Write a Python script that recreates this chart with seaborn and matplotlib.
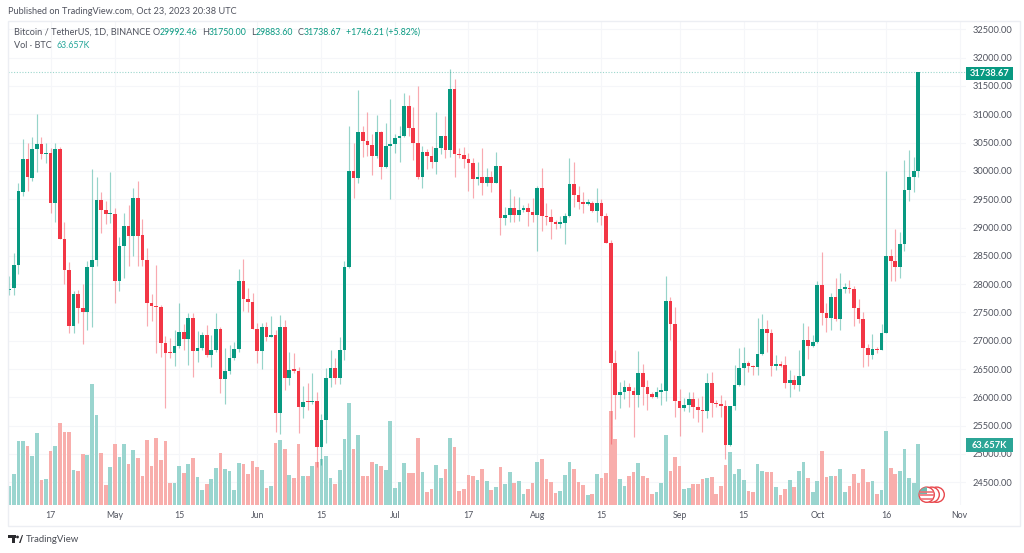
"""
BTCUSDT daily candles with volume, TradingView style snapshot.
"""

import matplotlib
matplotlib.use("Agg")
import matplotlib.pyplot as plt
import matplotlib.patches as mpatches
import pandas as pd
import seaborn as sns

START_DATE = "2023-04-08"

opens = [27900, 27940, 28333, 29635, 30217, 29880, 30380, 30470, 30300, 30310,
         29428, 30380, 28804, 28250, 27260, 27820, 27580, 27505, 28305, 28420,
         29480, 29310, 29235, 29235, 28060, 28675, 29030, 28850, 29520, 28860,
         28430, 27660, 27620, 27590, 26965, 26790, 26775, 26910, 27160, 27030,
         27405, 26815, 26875, 27095, 26740, 26835, 27210, 26330, 26470, 26695,
         26855, 28060, 27735, 27690, 27200, 26810, 27245, 27070, 27110, 25715,
         27235, 26335, 26490, 26470, 25835, 25925, 25915, 25930, 25125, 25600,
         26335, 26525, 26335, 26845, 28310, 30000, 29880, 30690, 30520, 30460,
         30255, 30690, 30065, 30440, 30470, 30575, 30610, 31150, 30755, 30490,
         29890, 30340, 30270, 30150, 30405, 30610, 30370, 31440, 30300, 30275,
         30215, 30135, 29855, 29900, 29795, 29890, 29795, 30085, 29170, 29225,
         29345, 29215, 29310, 29350, 29275, 29220, 29705, 29195, 29185, 29105,
         29070, 29075, 29205, 29765, 29575, 29445, 29420, 29425, 29290, 29425,
         29195, 28725, 26610, 26045, 26100, 26190, 26120, 26045, 26430, 26175,
         26055, 26010, 26100, 26120, 27705, 27295, 25940, 25805, 25865, 25965,
         25825, 25775, 25755, 26260, 25905, 25880, 25840, 25155, 25840, 26215,
         26525, 26600, 26550, 26530, 26765, 27200, 27130, 26560, 26580, 26570,
         26250, 26300, 26220, 26380, 27015, 26905, 26970, 27990, 27495, 27410,
         27765, 27390, 27920, 27940, 27910, 27580, 27380, 26870, 26750, 26855,
         26840, 27145, 28490, 28400, 28310, 28710, 29665, 29900, 29992.46]
highs = [28150, 28545, 29793, 30560, 30490, 30600, 31000, 30605, 30490, 30400,
         30490, 30420, 29100, 28390, 27880, 27900, 28000, 28410, 30040, 29890,
         29620, 29470, 29980, 29350, 28840, 29265, 29390, 29690, 29820, 29150,
         28645, 27820, 28340, 27630, 27080, 27040, 27190, 27670, 27295, 27495,
         27495, 27175, 27155, 27275, 27100, 27495, 27245, 26880, 26925, 26980,
         28275, 28450, 27925, 27835, 27305, 27305, 27335, 27445, 27190, 27450,
         27375, 26805, 26775, 26530, 26205, 26250, 26430, 26100, 25700, 26510,
         26835, 26700, 27070, 28400, 30795, 30500, 31430, 30795, 31035, 30650,
         30990, 30700, 30840, 31265, 30650, 30795, 31370, 31340, 31130, 31500,
         30440, 30380, 30440, 31035, 30620, 30970, 31795, 31625, 30400, 30430,
         30325, 30225, 30165, 30410, 30045, 29990, 30340, 30090, 29370, 29675,
         29560, 29545, 29400, 29430, 29515, 29725, 30045, 29430, 29325, 29130,
         29205, 29265, 30235, 30150, 29735, 29620, 29500, 29460, 29695, 29500,
         29250, 28780, 26835, 26275, 26305, 26260, 26190, 26820, 26590, 26305,
         26090, 26180, 26245, 28140, 27765, 27590, 26150, 25985, 26090, 26100,
         25985, 26025, 26435, 26450, 25950, 26040, 25950, 25850, 26570, 26865,
         26895, 26650, 26570, 27395, 27480, 27375, 27200, 26750, 26640, 26730,
         26480, 26400, 26835, 27305, 27260, 27100, 28060, 28560, 27675, 27835,
         28115, 28205, 28020, 28080, 27970, 27730, 27510, 26945, 27120, 26890,
         27295, 30000, 28620, 28970, 28915, 30195, 30370, 30240, 31750]
lows = [27800, 27800, 28175, 29560, 29646, 29820, 29980, 30205, 30135, 29250,
        29100, 28790, 28010, 27130, 27140, 27320, 26950, 27190, 27235, 28320,
        28910, 29060, 29085, 27670, 27880, 28115, 28320, 28500, 28320, 28320,
        27260, 27350, 26775, 26705, 25815, 26700, 26560, 26880, 26835, 26570,
        26365, 26630, 26835, 26705, 26540, 26800, 26080, 25880, 26420, 26660,
        26805, 27530, 27510, 27200, 26600, 26500, 27000, 27060, 25380, 25350,
        26130, 26215, 26430, 25365, 25630, 25775, 25880, 24775, 24800, 25190,
        26185, 26240, 26240, 26660, 28280, 29530, 29795, 30250, 30270, 29930,
        30225, 29860, 30050, 29500, 30325, 30160, 30600, 30620, 30195, 29855,
        29700, 30030, 30045, 29945, 30290, 30235, 30250, 29900, 30230, 30060,
        29640, 29520, 29755, 29575, 29735, 29620, 29780, 28860, 29045, 29095,
        29090, 29120, 29270, 29035, 29105, 28585, 28930, 29050, 28800, 28975,
        28990, 28705, 29190, 29370, 29325, 29265, 29390, 29280, 29105, 29045,
        28720, 25170, 25615, 25810, 25970, 25830, 25300, 25830, 25870, 25775,
        25980, 25990, 25870, 25930, 27020, 25660, 25315, 25765, 25745, 25630,
        25560, 25380, 25630, 25660, 25830, 25660, 24910, 25140, 25775, 26200,
        26215, 26450, 26395, 26390, 26750, 26805, 26375, 26480, 26530, 26160,
        26000, 26140, 26120, 26370, 26670, 26895, 26960, 27275, 27155, 27195,
        27350, 27190, 27835, 27850, 27260, 27305, 26540, 26550, 26685, 26780,
        26830, 27130, 28060, 28060, 28105, 28580, 29460, 29635, 29883.6]
closes = [27920, 28333, 29640, 30217, 29893, 30380, 30470, 30300, 30310, 29428,
          30380, 28804, 28250, 27260, 27820, 27580, 27505, 28310, 28420, 29480,
          29310, 29235, 29240, 28060, 28675, 29030, 28850, 29520, 28850, 28430,
          27660, 27620, 27590, 26965, 26790, 26775, 26910, 27160, 27030, 27405,
          26815, 26875, 27095, 26740, 26835, 27210, 26330, 26470, 26695, 26855,
          28060, 27735, 27690, 27200, 26810, 27245, 27070, 27110, 25715, 27235,
          26335, 26490, 26470, 25835, 25925, 25915, 25925, 25125, 25600, 26335,
          26525, 26335, 26845, 28310, 30000, 29880, 30690, 30520, 30460, 30255,
          30690, 30065, 30440, 30470, 30575, 30610, 31150, 30755, 30490, 29890,
          30340, 30270, 30150, 30405, 30610, 30370, 31440, 30300, 30275, 30215,
          30135, 29855, 29900, 29795, 29890, 29795, 30085, 29170, 29225, 29345,
          29215, 29310, 29350, 29275, 29220, 29705, 29195, 29185, 29105, 29070,
          29080, 29205, 29765, 29575, 29445, 29420, 29425, 29290, 29425, 29195,
          28725, 26610, 26045, 26100, 26190, 26120, 26045, 26430, 26175, 26055,
          26010, 26100, 26130, 27705, 27295, 25940, 25805, 25865, 25965, 25825,
          25775, 25755, 26260, 25905, 25880, 25840, 25155, 25840, 26215, 26525,
          26600, 26550, 26530, 26765, 27200, 27130, 26560, 26580, 26560, 26250,
          26300, 26220, 26380, 27015, 26905, 26970, 27990, 27495, 27410, 27765,
          27390, 27920, 27940, 27910, 27580, 27380, 26870, 26750, 26855, 26840,
          27145, 28490, 28400, 28310, 28710, 29665, 29900, 29990, 31738.67]
volumes = [19.4, 32.7, 67.3, 67.3, 61.6, 51.4, 75, 25.7, 26.8, 56,
           61.6, 85.6, 76.4, 77, 36.3, 35.2, 52.8, 52, 127.5, 94.4,
           53.9, 20.8, 39.8, 64, 50.4, 64, 42.6, 58, 49, 30,
           68, 40.5, 70.4, 47.5, 67, 23.2, 22.2, 40.5, 33.5, 43,
           49, 28.9, 15, 21.5, 26.8, 38.4, 54.2, 37.3, 34.9, 15.5,
           44, 42.6, 32.7, 46, 39.4, 36.3, 17, 19.4, 65, 68,
           59, 31, 27.8, 64.4, 30, 30, 40.5, 45, 48, 51.4,
           27.8, 21.8, 36.3, 69, 107.4, 58.5, 73, 30.6, 30.6, 45,
           42.3, 40.5, 36.3, 88, 17.6, 23.6, 43.7, 33.5, 33.5, 70.4,
           34.5, 13.4, 16.2, 41.5, 28.5, 38, 69.7, 60.2, 14, 16.2,
           31, 30, 25.7, 37.3, 24.3, 15, 18.7, 39.4, 21.8, 33.8,
           22.5, 24.3, 10.9, 16.2, 22.9, 44.7, 47.9, 26.8, 23.6, 12.3,
           14, 31, 45.4, 38, 23.6, 20.8, 9.9, 11.6, 31.7, 27.8,
           33, 99, 69, 26.4, 19.4, 30.6, 34, 44, 30.6, 27.8,
           10.6, 13, 23.2, 73.6, 35.2, 50.4, 40.5, 16.2, 17.3, 21.8,
           21.5, 27, 27.8, 28.9, 11.6, 19.4, 41.2, 55.6, 31.7, 38,
           26, 14.4, 13.4, 43, 35.9, 34, 34, 18.7, 9.9, 16.2,
           26, 18.7, 34.9, 44.4, 28.5, 13.4, 24.6, 57, 28.9, 30,
           30.3, 38, 13.7, 19.7, 31.7, 22.9, 37.3, 23.6, 24.3, 10.9,
           15, 77.5, 38.4, 32, 35.9, 59, 27.8, 22.9, 63.657]

price_ticks = list(range(24500, 33000, 500))
time_tick_dates = ["2023-04-17", "2023-05-01", "2023-05-15", "2023-06-01", "2023-06-15",
                   "2023-07-01", "2023-07-17", "2023-08-01", "2023-08-15", "2023-09-01",
                   "2023-09-15", "2023-10-01", "2023-10-16", "2023-11-01"]
time_tick_labels = ["17", "May", "15", "Jun", "15", "Jul", "17", "Aug", "15", "Sep",
                    "15", "Oct", "16", "Nov"]

UP = "#089981"
DOWN = "#f23645"
UP_VOL = "#9ad5cf"
DOWN_VOL = "#f8aeac"
GRID = "#f5f6f9"
TEXT = "#50535e"
WORDS = 6.6
NUMBERS = 6.3

df = pd.DataFrame({"open": opens, "high": highs, "low": lows, "close": closes, "volume": volumes})
df["day"] = range(len(df))
df["direction"] = ["up" if c >= o else "down" for o, c in zip(df["open"], df["close"])]
start = pd.Timestamp(START_DATE)
time_ticks = [(pd.Timestamp(d) - start).days for d in time_tick_dates]

sns.set_theme(style="white")
plt.rcParams["font.family"] = ["Lato", "DejaVu Sans"]

W, H = 1024, 553
fig = plt.figure(figsize=(W / 100, H / 100), dpi=100, facecolor="white")

# pane in pixels: x 7.5..966, y 20.5..504.5
pos = [7.5 / W, 1 - 504.5 / H, (966 - 7.5) / W, (504.5 - 20.5) / H]
xlim = (-0.39, 208.4)
ylim = (24107, 32657)

# bottom layer: grid and price/time labels
ax = fig.add_axes(pos, zorder=1)
ax.set_xlim(xlim)
ax.set_ylim(ylim)
ax.yaxis.tick_right()
ax.set_yticks(price_ticks)
ax.set_yticklabels([f"{p:.2f}" for p in price_ticks], color=TEXT, fontsize=6.7)
ax.set_xticks(time_ticks)
ax.set_xticklabels(time_tick_labels, color=TEXT, fontsize=6.3)
ax.tick_params(axis="both", length=0)
ax.tick_params(axis="y", pad=4.5)
ax.tick_params(axis="x", pad=4.5)
ax.grid(True, color=GRID, linewidth=0.8)
for s in ax.spines.values():
    s.set_visible(False)

# volume layer
vol_ax = fig.add_axes(pos, zorder=2)
vol_ax.patch.set_visible(False)
sns.barplot(data=df, x="day", y="volume", hue="direction", hue_order=["up", "down"],
            palette={"up": UP_VOL, "down": DOWN_VOL}, native_scale=True, dodge=False,
            width=0.8, saturation=1, legend=False, linewidth=0, ax=vol_ax)
vol_ax.set_xlim(xlim)
vol_ax.set_ylim(0, 484 / 0.947)
vol_ax.axis("off")

# candle layer
candle_ax = fig.add_axes(pos, zorder=3)
candle_ax.patch.set_visible(False)
candle_ax.set_xlim(xlim)
candle_ax.set_ylim(ylim)
candle_ax.axis("off")
for direction, color in (("up", UP), ("down", DOWN)):
    sub = df[df["direction"] == direction]
    candle_ax.vlines(sub["day"], sub["low"], sub["high"], color=color, alpha=0.42, linewidth=0.85)
    candle_ax.bar(sub["day"], (sub["close"] - sub["open"]).abs().clip(lower=22),
                  bottom=sub[["open", "close"]].min(axis=1), width=0.8, color=color, linewidth=0)
candle_ax.axhline(closes[-1], color=UP, alpha=0.4, linewidth=0.8, linestyle=(0, (1, 1.5)))

# page furniture in pixel coordinates
top = fig.add_axes([0, 0, 1, 1], zorder=4)
top.set_xlim(0, W)
top.set_ylim(H, 0)
top.axis("off")
top.patch.set_visible(False)

top.add_patch(mpatches.Rectangle((7.5, 20.5), 1012, 505.5, fill=False, edgecolor="#eceef3", linewidth=1))
top.text(7.5, 12, "Published on TradingView.com, Oct 23, 2023 20:38 UTC", color=TEXT, fontsize=WORDS, va="center")

top.text(14, 32.5, "Bitcoin / TetherUS, 1D, BINANCE", color=TEXT, fontsize=WORDS, va="center")
for x, vx, letter, value in [(152.7, 159.3, "O", "29992.46"), (201.7, 208.3, "H", "31750.00"),
                             (250.7, 255.7, "L", "29883.60"), (297.7, 303.3, "C", "31738.67")]:
    top.text(x, 32.5, letter, color=TEXT, fontsize=WORDS, va="center")
    top.text(vx, 32.5, value, color=UP, fontsize=NUMBERS, va="center")
top.text(346, 32.5, "+1746.21 (+5.82%)", color=UP, fontsize=NUMBERS, va="center")
top.text(14, 46, "Vol · BTC", color=TEXT, fontsize=WORDS, va="center")
top.text(56.7, 46, "63.657K", color="#26a69a", fontsize=NUMBERS, va="center")

top.add_patch(mpatches.Rectangle((966, 66.5), 47, 13.5, color=UP, linewidth=0))
top.text(989.5, 73.2, "31738.67", color="white", fontsize=6.7, fontweight="bold", ha="center", va="center")
top.add_patch(mpatches.Rectangle((966, 438), 47, 14, color="#2ba596", linewidth=0))
top.text(989.5, 445, "63.657K", color="white", fontsize=6.7, fontweight="bold", ha="center", va="center")

# country flag markers on the last bar
for cx in (936.7, 931.7, 926.7):
    top.add_patch(mpatches.Circle((cx, 494.7), 7.6, facecolor="white", edgecolor="#e8474c", linewidth=1))
flag = mpatches.Circle((926.7, 494.7), 7.6, transform=top.transData)
for y in (491.5, 495, 498.5):
    line = top.plot([919, 935], [y, y], color="#ef7075", linewidth=1.2)[0]
    line.set_clip_path(flag)
canton = mpatches.Rectangle((919, 487), 8, 6.5, color="#6fb9ae", linewidth=0)
top.add_patch(canton)
canton.set_clip_path(flag)

# TradingView mark and wordmark
top.add_patch(mpatches.Rectangle((8, 535), 8, 2.5, color="#2a2a2e", linewidth=0))
top.add_patch(mpatches.Rectangle((11.5, 535), 3.5, 8, color="#2a2a2e", linewidth=0))
top.add_patch(mpatches.Circle((17.5, 537), 1.4, color="#2a2a2e", linewidth=0))
top.add_patch(mpatches.Polygon([(19, 543), (22, 535), (23, 535), (20.5, 543)], color="#2a2a2e", linewidth=0))
top.text(26, 539.5, "TradingView", color="#4a4d55", fontsize=6.9, va="center")

fig.savefig("out.png", dpi=100)
